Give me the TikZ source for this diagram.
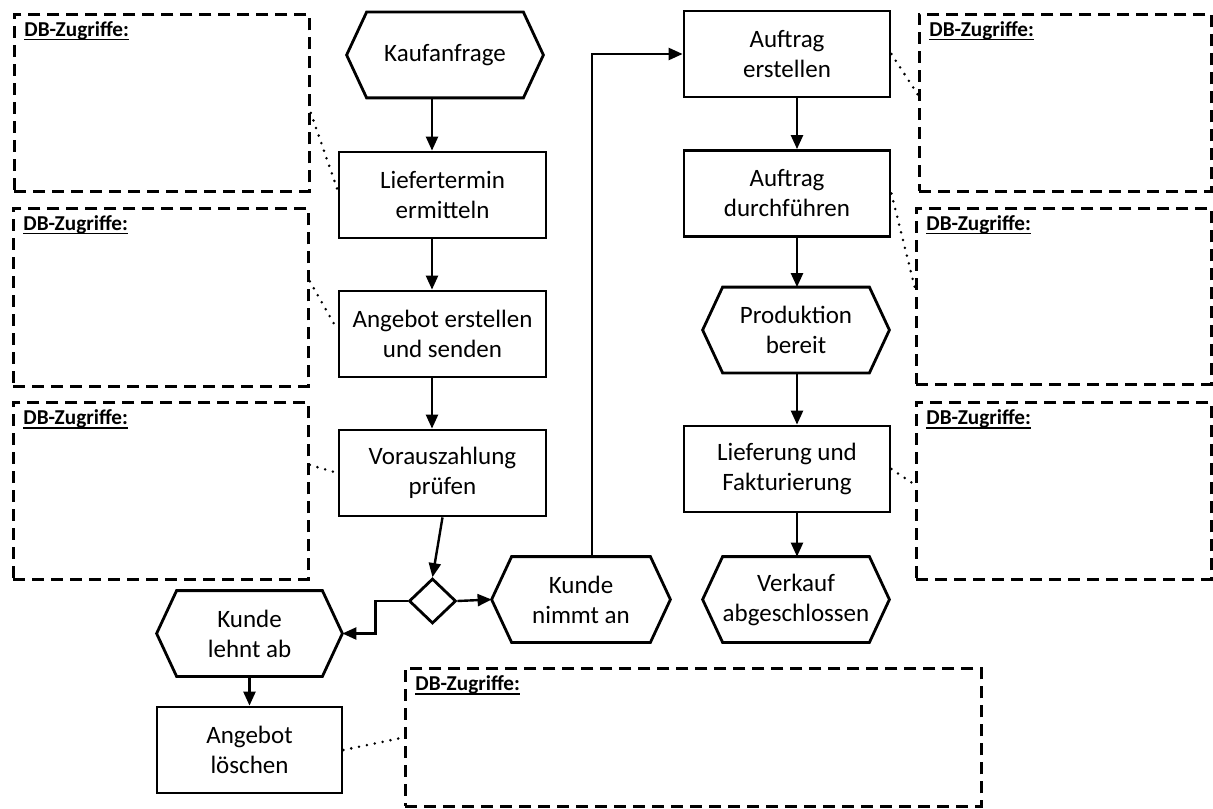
\documentclass[tikz,border=0pt]{standalone}
\usepackage{fontspec}
\setmainfont{Carlito}
\usetikzlibrary{shapes.geometric, arrows.meta}
\tikzstyle{process} = [rectangle, draw=black, line width=1.4pt, minimum width=103.5pt, minimum height=43pt, align=center, inner sep=2pt]
\tikzstyle{event} = [rectangle, minimum height=42.5pt, align=center, inner sep=2pt]
\tikzstyle{gate} = [diamond, draw=black, line width=1.4pt, minimum width=23.5pt, minimum height=22.5pt, inner sep=0pt]
\tikzstyle{dbbox} = [rectangle, draw=black, line width=1.4pt, dash pattern=on 6pt off 3.5pt, minimum width=147.5pt, minimum height=88.5pt, anchor=north west]
\tikzstyle{dblabel} = [anchor=north west, font=\fontsize{10.6}{12}\selectfont\bfseries, inner sep=0pt]
\tikzstyle{arrow} = [line width=1.2pt, -{Triangle[length=7pt,width=6pt]}]
\tikzstyle{dbline} = [line width=1.4pt, dash pattern=on 0pt off 4pt, line cap=round]
\newcommand{\dbul}[1]{\setbox0\hbox{#1}\rlap{\vrule height -1.2pt depth 2.1pt width \wd0}\box0}
\newcommand{\hexbox}[1]{\draw[line width=1.4pt] (#1.west) -- ([xshift=10pt]#1.north west) -- ([xshift=-10pt]#1.north east) -- (#1.east) -- ([xshift=-10pt]#1.south east) -- ([xshift=10pt]#1.south west) -- cycle;}
\begin{document}
\begin{tikzpicture}[x=0.5pt, y=-0.5pt, font=\fontsize{12.5}{15}\selectfont]
\useasboundingbox (0,0) rectangle (1213,808);

%% DB BOXES
\node (db1) [dbbox] at (13,13) {};
\node (db2) [dbbox, minimum height=89pt] at (12,207) {};
\node (db3) [dbbox] at (12,401) {};
\node (db4) [dbbox, minimum width=146pt] at (918,13) {};
\node (db5) [dbbox, minimum height=88pt] at (915,207) {};
\node (db6) [dbbox] at (915,401) {};
\node (db7) [dbbox, minimum width=288pt, minimum height=69pt] at (404,667) {};
\foreach \b in {db1,db2,db3,db4,db5,db6,db7}
  \node (\b t) [dblabel] at ([shift={(5.5pt,-4pt)}]\b.north west) {\dbul{DB-Zugriffe:}};

%% NODES
\node (kauf) [event, minimum width=98pt] at (445,55) {Kaufanfrage};
\node (lief) [process] at (442.5,195) {Liefertermin\\ermitteln};
\node (angerst) [process] at (442.5,334) {Angebot erstellen\\und senden};
\node (voraus) [process] at (442.5,473) {Vorauszahlung\\prüfen};
\node (dec) [gate] at (432.5,601) {};
\node (nimmt) [event, minimum width=89pt] at (581,599.5) {Kunde\\nimmt an};
\node (lehnt) [event, minimum width=92.5pt] at (249.5,633.5) {Kunde\\lehnt ab};
\node (loeschen) [process, minimum width=92.5pt] at (249.5,750) {Angebot\\löschen};
\node (auferst) [process, minimum width=103pt] at (787,54) {Auftrag\\erstellen};
\node (aufdurch) [process, minimum width=103pt] at (787,193.5) {Auftrag\\durchführen};
\node (prod) [event, minimum width=93pt] at (796,330) {Produktion\\bereit};
\node (liefakt) [process, minimum width=103pt] at (787,469) {Lieferung und\\Fakturierung};
\node (verkauf) [event, minimum width=93pt] at (796,599.5) {Verkauf\\abgeschlossen};
\hexbox{kauf}
\hexbox{nimmt}
\hexbox{lehnt}
\hexbox{prod}
\hexbox{verkauf}

\coordinate (colA) at (432,0);
\coordinate (colB) at (797,0);
\coordinate (up) at (592,0);

%% ARROWS
\draw [arrow] (kauf.south -| colA) -- (lief.north -| colA);
\draw [arrow] (lief.south -| colA) -- (angerst.north -| colA);
\draw [arrow] (angerst.south -| colA) -- (voraus.north -| colA);
\draw [arrow] (voraus.south) -- (dec.north);
\draw [arrow] (dec.east) -- (nimmt.west);
\draw [arrow] (dec.west) -- ++(-32,0) |- (lehnt.east);
\draw [arrow] (lehnt.south) -- (loeschen.north);
\draw [arrow] (nimmt.north -| up) |- (auferst.west);
\draw [arrow] (auferst.south -| colB) -- (aufdurch.north -| colB);
\draw [arrow] (aufdurch.south -| colB) -- (prod.north -| colB);
\draw [arrow] (prod.south -| colB) -- (liefakt.north -| colB);
\draw [arrow] (liefakt.south -| colB) -- (verkauf.north -| colB);

%% DOTTED LINKS
\draw [dbline] ([yshift=-5pt]db1.east) -- ([yshift=2.5pt]lief.west);
\draw [dbline] ([yshift=8pt]db2.east) -- ([yshift=2pt]angerst.west);
\draw [dbline] ([yshift=13pt]db3.east) -- (voraus.west);
\draw [dbline] (auferst.east) -- ([yshift=4pt]db4.west);
\draw [dbline] (aufdurch.east) -- ([yshift=4pt]db5.west);
\draw [dbline] (liefakt.east) -- ([yshift=3pt]db6.west);
\draw [dbline] (loeschen.east) -- (db7.west);
\end{tikzpicture}
\end{document}
